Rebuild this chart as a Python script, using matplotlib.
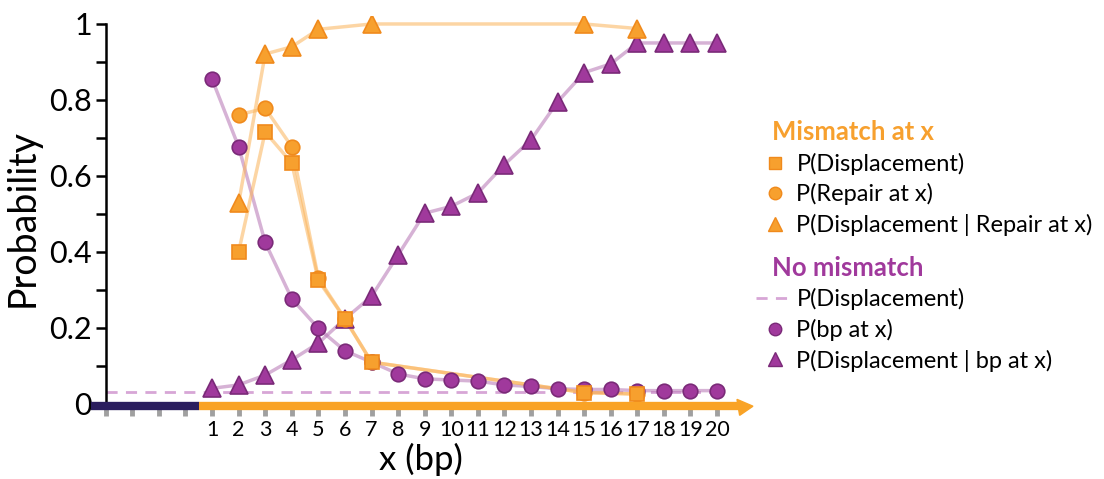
import numpy as np
import matplotlib.pyplot as plt
from matplotlib.lines import Line2D
from matplotlib.patches import Polygon

plt.rcParams['font.family'] = ['Lato', 'DejaVu Sans']

# Mismatch at x
mm_x = [2, 3, 4, 5, 6, 7, 15, 17]
mm_disp = [0.40, 0.716, 0.634, 0.325, 0.224, 0.11, 0.03, 0.026]
mm_repair = [0.761, 0.778, 0.677, 0.331, 0.224, 0.11, 0.03, 0.026]
mm_cond_x = [2, 3, 4, 5, 7, 15, 17]
mm_cond = [0.528, 0.921, 0.94, 0.986, 1.0, 1.0, 0.988]

# No mismatch
nm_x = list(range(1, 21))
nm_bp = [0.855, 0.677, 0.425, 0.277, 0.199, 0.14, 0.11, 0.079, 0.066, 0.063,
         0.06, 0.05, 0.046, 0.04, 0.038, 0.038, 0.035, 0.035, 0.035, 0.035]
nm_cond = [0.041, 0.05, 0.076, 0.116, 0.16, 0.224, 0.283, 0.392, 0.502, 0.52,
           0.555, 0.63, 0.695, 0.795, 0.872, 0.895, 0.95, 0.95, 0.95, 0.95]
nm_disp = 0.032

ORANGE = '#F7A02E'
ORANGE_EDGE = '#F08A1C'
ORANGE_LINE = '#FBB45A'
PURPLE = '#A0399C'
PURPLE_EDGE = '#7A2A78'
PURPLE_LINE = '#B574B3'
NAVY = '#2B1E5E'

fig = plt.figure(figsize=(11.04, 4.79), dpi=100)
ax = fig.add_axes([0.0813, 0.125, 0.5995, 0.8408])

lkw = dict(lw=2.5, alpha=0.55)
ax.plot(nm_x, nm_bp, color=PURPLE_LINE, zorder=2, **lkw)
ax.plot(nm_x, nm_cond, color=PURPLE_LINE, zorder=2, **lkw)
ax.plot(mm_x, mm_disp, color=ORANGE_LINE, zorder=2, **lkw)
ax.plot(mm_x, mm_repair, color=ORANGE_LINE, zorder=2, **lkw)
ax.plot(mm_cond_x, mm_cond, color=ORANGE_LINE, zorder=2, **lkw)
ax.plot([-3, 20], [nm_disp, nm_disp], color='#D7A6D6', lw=2, ls=(0, (4, 3)), zorder=1)

mkw = dict(ls='none', markeredgewidth=1.2)
ax.plot(nm_x, nm_cond, marker='^', ms=13, color=PURPLE, mec=PURPLE_EDGE, zorder=3, **mkw)
ax.plot(mm_cond_x, mm_cond, marker='^', ms=13, color=ORANGE, mec=ORANGE_EDGE, zorder=4, **mkw)
ax.plot(mm_x, mm_repair, marker='o', ms=10.5, color=ORANGE, mec=ORANGE_EDGE, zorder=4, **mkw)
ax.plot(mm_x, mm_disp, marker='s', ms=10, color=ORANGE, mec=ORANGE_EDGE, zorder=5, **mkw)
ax.plot(nm_x, nm_bp, marker='o', ms=10.5, color=PURPLE, mec=PURPLE_EDGE, zorder=4, **mkw)

# coloured baseline bar
ybar = -0.006
ax.plot([-3.55, 0.5], [ybar, ybar], color=NAVY, lw=6, solid_capstyle='butt', zorder=6, clip_on=False)
ax.plot([0.5, 20.9], [ybar, ybar], color='#F9A326', lw=6, solid_capstyle='butt', zorder=6, clip_on=False)
ax.add_patch(Polygon([[20.75, 0.012], [21.35, ybar], [20.85, -0.03]], closed=True,
                     color='#F9A326', zorder=6, clip_on=False))

ax.set_xlim(-3.6, 21.3)
ax.set_ylim(-0.04, 1.02)

for s in ['top', 'right', 'bottom']:
    ax.spines[s].set_visible(False)
ax.spines['left'].set_position(('data', -3))
ax.spines['left'].set_bounds(0, 1)
ax.spines['left'].set_linewidth(1.8)
ax.spines['bottom'].set_position(('data', -0.014))

ax.set_yticks([0, 0.2, 0.4, 0.6, 0.8, 1.0])
ax.set_yticklabels(['0', '0.2', '0.4', '0.6', '0.8', '1'], fontsize=22)
ax.set_yticks(np.arange(0.1, 1.0, 0.2), minor=True)
ax.tick_params(axis='y', which='both', length=7, width=1.8, pad=3)

xt = list(range(-3, 21))
ax.set_xticks(xt)
ax.set_xticklabels(['' if v < 1 else str(v) for v in xt], fontsize=15.5)
ax.tick_params(axis='x', length=5, width=3.5, color='#A0A0A0', pad=3)

ax.set_ylabel('Probability', fontsize=27, labelpad=6)
ax.set_xlabel('x (bp)', fontsize=25, labelpad=2)

# legends
fs = 17
h1 = [Line2D([], [], ls='none', marker='s', ms=9, color=ORANGE, mec=ORANGE_EDGE),
      Line2D([], [], ls='none', marker='o', ms=9, color=ORANGE, mec=ORANGE_EDGE),
      Line2D([], [], ls='none', marker='^', ms=10, color=ORANGE, mec=ORANGE_EDGE)]
l1 = ['P(Displacement)', 'P(Repair at x)', 'P(Displacement | Repair at x)']
h2 = [Line2D([], [], color='#D7A6D6', lw=2, ls=(0, (4, 3))),
      Line2D([], [], ls='none', marker='o', ms=9, color=PURPLE, mec=PURPLE_EDGE),
      Line2D([], [], ls='none', marker='^', ms=10, color=PURPLE, mec=PURPLE_EDGE)]
l2 = ['P(Displacement)', 'P(bp at x)', 'P(Displacement | bp at x)']

legkw = dict(frameon=False, fontsize=fs, handlelength=1.6, handletextpad=0.1,
             labelspacing=0.36, alignment='left', borderpad=0, borderaxespad=0)
leg1 = fig.legend(h1, l1, title='Mismatch at x', loc='upper left',
                  bbox_to_anchor=(0.685, 0.749), **legkw)
leg1.get_title().set_color(ORANGE)
leg1.get_title().set_fontweight('bold')
leg1.get_title().set_fontsize(18.5)
leg2 = fig.legend(h2, l2, title='No mismatch', loc='upper left',
                  bbox_to_anchor=(0.685, 0.466), **legkw)
leg2.get_title().set_color(PURPLE)
leg2.get_title().set_fontweight('bold')
leg2.get_title().set_fontsize(18.5)
for leg in (leg1, leg2):
    leg.get_title().set_x(16)

fig.savefig('out.png', dpi=100)
